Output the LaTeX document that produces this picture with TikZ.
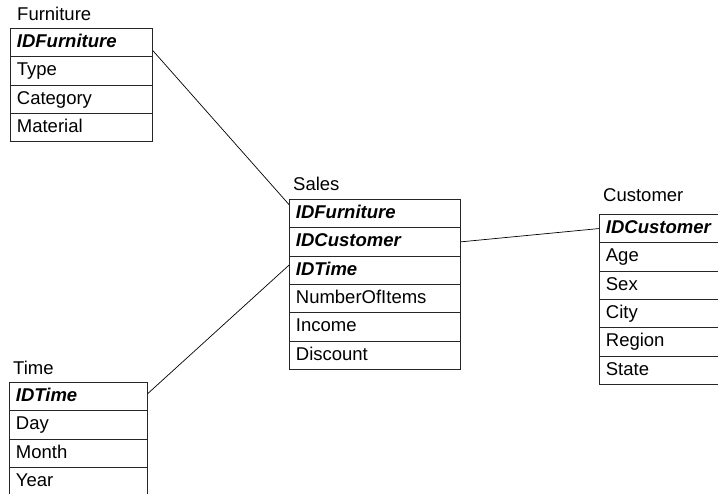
\documentclass[tikz,border=0pt]{standalone}
\usepackage{fontspec}
\setmainfont{Liberation Sans}
\begin{document}
\begin{tikzpicture}[x=1pt,y=-1pt,
  font=\fontsize{18.5}{22}\selectfont,
  row/.style={draw=black!85, line width=0.8pt, rectangle, anchor=north west,
    minimum height=28.3pt, inner xsep=6.5pt, inner ysep=0pt, align=left,
    text height=13.5pt, text depth=3.5pt},
  keyrow/.style={row, font=\fontsize{18.5}{22}\selectfont\bfseries\itshape},
  title/.style={anchor=base west, inner sep=0pt},
  link/.style={draw=black, line width=0.7pt}]
\useasboundingbox (0,0) rectangle (718,493);
\clip (0,0) rectangle (718,493);
% Furniture
\node[title] (ft) at (17,20) {Furniture};
\node[keyrow, minimum width=142pt, text width=129pt] (f1) at (10,28) {IDFurniture};
\node[row, minimum width=142pt, text width=129pt] (f2) at (10,56.3) {Type};
\node[row, minimum width=142pt, text width=129pt] (f3) at (10,84.6) {Category};
\node[row, minimum width=142pt, text width=129pt] (f4) at (10,112.9) {Material};
% Sales
\node[title] (st) at (293,190) {Sales};
\node[keyrow, minimum width=171pt, text width=158pt] (s1) at (289,199) {IDFurniture};
\node[keyrow, minimum width=171pt, text width=158pt] (s2) at (289,227.3) {IDCustomer};
\node[keyrow, minimum width=171pt, text width=158pt] (s3) at (289,255.6) {IDTime};
\node[row, minimum width=171pt, text width=158pt] (s4) at (289,283.9) {NumberOfItems};
\node[row, minimum width=171pt, text width=158pt] (s5) at (289,312.2) {Income};
\node[row, minimum width=171pt, text width=158pt] (s6) at (289,340.5) {Discount};
% Customer
\node[title] (ct) at (603,201) {Customer};
\node[keyrow, minimum width=142pt, text width=129pt] (c1) at (599,214) {IDCustomer};
\node[row, minimum width=142pt, text width=129pt] (c2) at (599,242.3) {Age};
\node[row, minimum width=142pt, text width=129pt] (c3) at (599,270.6) {Sex};
\node[row, minimum width=142pt, text width=129pt] (c4) at (599,298.9) {City};
\node[row, minimum width=142pt, text width=129pt] (c5) at (599,327.2) {Region};
\node[row, minimum width=142pt, text width=129pt] (c6) at (599,355.5) {State};
% Time
\node[title] (tt) at (13,374) {Time};
\node[keyrow, minimum width=138pt, text width=125pt] (t1) at (9,382) {IDTime};
\node[row, minimum width=138pt, text width=125pt] (t2) at (9,410.3) {Day};
\node[row, minimum width=138pt, text width=125pt] (t3) at (9,438.6) {Month};
\node[row, minimum width=138pt, text width=125pt] (t4) at (9,466.9) {Year};
% connectors
\draw[link] ([yshift=-8pt]f1.east) -- ([yshift=9pt]s1.west);
\draw[link] (s2.east) -- (c1.west);
\draw[link] ([yshift=3pt]t1.east) -- ([yshift=5pt]s3.west);
\end{tikzpicture}
\end{document}
